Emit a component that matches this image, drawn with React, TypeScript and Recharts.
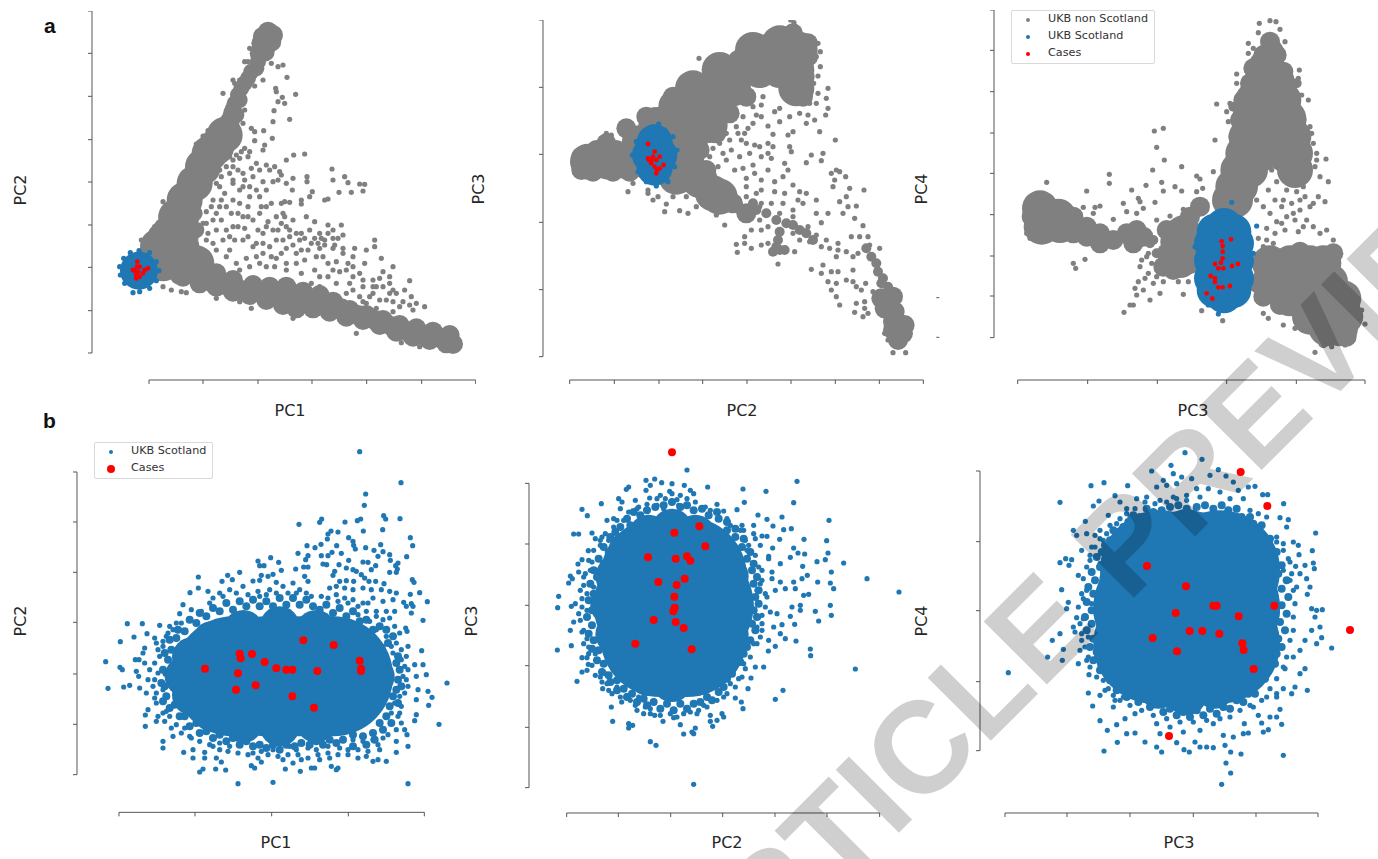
// PCA scatter panels (a: whole UKB, b: Scotland only) with case overlays.
// Values in picture units, y counted downwards,
// the axes have no numbers so the unit itself does not matter.
import { ReferenceLine, Scatter, ScatterChart, XAxis, YAxis } from "recharts";

type Pair = [number, number];

const GREY = "#808080";
const BLUE = "#1f77b4";
const RED = "#ff0000";
const SPINE = "#555";

// ---------- panel a, PC1 / PC2 ----------
const a1XTicks = [448, 610, 775, 937, 1101, 1266, 1428];
const a1YTicks = [33, 160, 289, 419, 546, 675, 802, 932, 1059];
const a1GreyLarge: Pair[] = [[675, 405], [650, 440], [630, 460], [610, 500], [585, 550], [555, 600], [530, 650], [545, 650], [510, 700], [545, 700], [475, 740], [530, 740], [545, 740], [490, 790], [545, 790], [590, 790]];
const a1GreyMid: Pair[] = [[805, 95], [790, 110], [820, 105], [785, 130], [815, 125], [780, 160], [795, 155], [690, 365], [700, 340], [635, 830], [590, 830], [540, 825], [550, 830], [600, 850], [650, 860], [700, 875], [750, 885], [800, 900], [850, 915], [890, 925], [940, 925], [990, 935], [1040, 950], [1090, 960], [1140, 975], [1190, 995], [1240, 1010], [1290, 1020], [1340, 1030], [1360, 1032], [650, 820], [700, 840], [760, 855], [810, 860], [860, 860], [910, 875], [960, 885], [1000, 905], [1050, 930], [1100, 945], [1150, 960], [1200, 975], [1250, 985], [1300, 995], [1350, 1005], [675, 855], [725, 870], [775, 875], [825, 885], [875, 890], [925, 900], [975, 910], [1025, 925], [1075, 945], [1125, 960], [1175, 978], [1225, 995], [1275, 1005], [1325, 1015]];
const a1GreyArm: Pair[] = [[775, 185], [770, 205], [755, 215], [745, 235], [735, 250], [725, 265], [715, 285], [720, 300], [705, 310], [700, 325], [710, 345], [590, 690], [585, 640], [470, 700], [500, 650], [540, 590]];
const a1GreyDots: Pair[] = [[815, 190], [850, 195], [835, 200], [862, 232], [828, 265], [830, 275], [888, 283], [848, 292], [835, 305], [855, 310], [823, 332], [820, 365], [870, 358], [755, 385], [765, 395], [792, 392], [818, 415], [765, 422], [795, 435], [790, 450], [735, 445], [750, 455], [710, 465], [720, 475], [770, 490], [800, 495], [825, 500], [860, 480], [882, 465], [915, 462], [997, 507], [1000, 540], [1035, 530], [1045, 548], [1080, 552], [1095, 553], [1090, 573], [1055, 577], [1018, 577], [975, 600], [985, 597], [938, 575], [930, 590], [905, 600], [905, 612], [880, 535], [922, 530], [922, 545], [878, 570], [855, 605], [870, 607], [840, 515], [845, 525], [820, 545], [790, 545], [760, 530], [730, 520], [700, 500], [680, 500], [665, 530], [650, 550], [640, 600], [620, 635], [610, 670], [625, 700], [650, 640], [680, 620], [700, 600], [720, 570], [750, 560], [780, 590], [800, 620], [830, 650], [850, 640], [820, 690], [790, 700], [760, 660], [730, 650], [700, 680], [670, 720], [640, 730], [690, 750], [730, 720], [770, 730], [810, 740], [850, 720], [890, 700], [920, 650], [945, 665], [985, 675], [1025, 675], [965, 715], [985, 700], [1015, 715], [1005, 735], [945, 715], [905, 750], [860, 745], [830, 775], [800, 800], [770, 770], [740, 775], [710, 790], [680, 770], [925, 750], [970, 770], [1010, 785], [1045, 790], [1065, 745], [1100, 750], [1125, 720], [1125, 740], [1145, 775], [1180, 800], [1150, 815], [1120, 840], [1080, 820], [1050, 850], [1020, 815], [985, 830], [945, 810], [905, 820], [935, 850], [1040, 880], [1080, 890], [1120, 880], [1150, 860], [1190, 880], [1230, 842], [1215, 870], [1235, 890], [1250, 910], [1275, 920], [1200, 920], [1160, 900], [1100, 910], [1070, 1000], [755, 925], [720, 905], [650, 895], [560, 878], [515, 870], [545, 875], [490, 860], [750, 145], [745, 185], [735, 185], [700, 240], [790, 240], [765, 258], [670, 280], [705, 250], [720, 240], [750, 240], [625, 392], [610, 408], [590, 432], [570, 480], [490, 605], [465, 680], [425, 720], [735, 330], [730, 370], [840, 930], [880, 955], [1205, 1028], [1260, 1040], [660, 560], [675, 580], [700, 550], [735, 540], [770, 570], [800, 570], [715, 640], [745, 620], [665, 660], [690, 710], [735, 685], [775, 690], [805, 665], [845, 670], [870, 690], [905, 700], [915, 715], [955, 730], [975, 735], [1000, 715], [1030, 745], [890, 760], [760, 740], [790, 760], [825, 800], [860, 790], [630, 770], [1090, 860], [1130, 860], [1060, 830], [1170, 850], [1180, 870]];
const a1GreyDotsExtra: Pair[] = [[690, 470], [725, 455], [745, 470], [700, 480], [660, 510], [690, 520], [715, 510], [755, 505], [780, 510], [810, 510], [835, 540], [860, 550], [700, 540], [730, 560], [665, 600], [635, 620], [660, 620], [695, 640], [720, 610], [750, 590], [785, 620], [815, 610], [845, 610], [855, 650], [880, 660], [860, 680], [835, 690], [800, 680], [780, 640], [745, 650], [715, 680], [680, 690], [650, 690], [620, 670], [640, 660], [620, 720], [650, 750], [705, 720], [745, 710], [790, 730], [830, 720], [870, 710], [900, 720], [930, 690], [960, 700], [1000, 690], [1030, 705], [975, 720], [1000, 745], [960, 745], [935, 730], [880, 735], [845, 760], [815, 770], [780, 790], [750, 800], [720, 810], [860, 810], [890, 790], [915, 780], [950, 770], [985, 790], [1030, 760], [1060, 770], [1095, 790], [1040, 810], [1000, 810], [960, 830], [1060, 800], [1010, 850], [960, 860], [1090, 840], [1120, 860], [1140, 835], [1170, 830], [1110, 890], [1140, 900], [1180, 905], [1210, 905], [1230, 915], [1170, 880], [1060, 870], [1090, 905], [1130, 925], [1180, 935], [1240, 930]];
const a1BlueLarge: Pair[] = [[418, 812]];
const a1BlueDots: Pair[] = [[418, 752], [450, 758], [470, 785], [478, 812], [470, 842], [450, 865], [420, 875], [400, 878], [375, 850], [362, 825], [360, 800], [372, 775], [392, 758]];
const a1Cases: Pair[] = [[413, 785], [412, 800], [420, 800], [435, 810], [445, 805], [405, 812], [415, 815], [430, 820], [410, 825], [420, 830], [410, 835], [400, 810]];

// ---------- panel a, PC2 / PC3 ----------
const a2XTicks = [330, 464, 598, 729, 862, 994, 1127, 1259, 1391];
const a2YTicks = [60, 262, 463, 667, 869, 1070];
const a2GreyLarge: Pair[] = [[880, 150], [940, 150], [1000, 150], [1020, 150], [960, 130], [780, 210], [840, 210], [900, 210], [960, 210], [1010, 210], [700, 265], [760, 265], [820, 265], [1010, 265], [650, 320], [710, 320], [770, 320], [590, 375], [650, 375], [710, 375], [750, 375], [540, 430], [600, 430], [660, 430], [690, 430], [385, 485], [445, 485], [505, 485], [565, 485], [625, 485], [680, 485], [650, 530], [710, 530], [720, 540], [760, 580], [780, 590]];
const a2GreyMid: Pair[] = [[640, 290], [705, 245], [770, 215], [835, 180], [890, 140], [950, 110], [1000, 100], [1045, 130], [1045, 170], [1035, 230], [1030, 290], [560, 350], [500, 385], [440, 430], [860, 290], [810, 340], [770, 400], [720, 450], [740, 510], [820, 610], [860, 640], [365, 470], [365, 510], [410, 450], [470, 450], [400, 515], [460, 515], [510, 515], [1265, 895], [1300, 890], [1275, 925], [1305, 935], [1300, 965], [1335, 975], [1330, 1000], [1315, 1020], [1300, 990]];
const a2GreySmall: Pair[] = [[860, 630], [890, 630], [920, 640], [950, 660], [980, 670], [955, 720], [950, 740], [960, 750], [940, 755], [975, 750], [1020, 690], [1040, 700], [1060, 720], [1220, 745], [1235, 770], [1250, 790], [1255, 815], [1270, 835], [1285, 860], [1265, 850], [960, 695], [880, 610], [1000, 675]];
const a2GreyDots: Pair[] = [[993, 60], [1003, 68], [1082, 155], [1082, 200], [1075, 228], [1105, 265], [1075, 280], [1100, 295], [1070, 310], [1105, 325], [1098, 345], [1020, 340], [1045, 345], [990, 350], [960, 365], [960, 325], [945, 335], [905, 315], [890, 345], [905, 350], [925, 378], [880, 370], [865, 385], [855, 400], [845, 420], [1040, 370], [1065, 360], [1080, 395], [1000, 395], [985, 405], [940, 403], [1127, 420], [925, 430], [885, 435], [860, 430], [900, 440], [925, 460], [940, 440], [990, 440], [995, 455], [1055, 465], [1090, 460], [1040, 488], [1085, 482], [780, 430], [760, 445], [790, 460], [750, 470], [815, 450], [840, 470], [870, 460], [905, 470], [880, 495], [850, 505], [935, 475], [885, 520], [925, 510], [975, 490], [985, 510], [970, 530], [945, 545], [905, 540], [860, 535], [1130, 510], [1115, 520], [1125, 540], [1120, 560], [1140, 515], [1158, 530], [1170, 565], [1213, 570], [1160, 590], [1140, 605], [1190, 618], [1165, 620], [1150, 640], [1185, 655], [1210, 677], [1105, 640], [1070, 640], [1085, 668], [1070, 600], [1040, 580], [1020, 575], [1015, 600], [975, 580], [945, 575], [905, 570], [890, 580], [860, 560], [1000, 555], [1030, 610], [1045, 680], [1070, 705], [1100, 720], [1135, 730], [1135, 750], [1110, 745], [1085, 740], [1160, 755], [1130, 770], [1180, 770], [1195, 760], [1175, 710], [1225, 710], [1200, 710], [1260, 745], [1230, 735], [1090, 795], [1055, 808], [1085, 820], [1115, 815], [1105, 845], [1135, 815], [1130, 850], [1115, 870], [1130, 890], [1140, 915], [1160, 840], [1180, 845], [1190, 860], [1205, 870], [1190, 910], [1215, 905], [1185, 937], [1215, 925], [1210, 950], [1180, 810], [1218, 850], [1240, 875], [1225, 940], [1275, 1000], [1285, 1020], [1300, 1058], [1338, 1058], [830, 733], [855, 730], [875, 745], [833, 757], [905, 735], [925, 730], [855, 710], [875, 690], [795, 675], [770, 645], [685, 640], [660, 632], [620, 612], [615, 635], [580, 600], [565, 570], [595, 590], [505, 575], [520, 550], [565, 580], [640, 590], [680, 590], [710, 620], [955, 792], [1005, 755], [440, 400], [455, 405], [498, 372], [718, 175], [775, 175], [785, 190], [770, 180], [1030, 690], [1000, 650], [960, 640], [920, 635], [900, 620], [1075, 130], [1070, 170], [1062, 250], [1050, 310], [800, 400], [830, 380], [810, 420], [780, 410], [880, 320], [910, 290], [850, 350], [835, 400], [800, 480], [825, 510], [775, 500], [860, 590], [905, 610], [935, 610], [970, 610], [1000, 700], [1020, 720], [1050, 725], [900, 660], [925, 680], [905, 690], [1000, 630]];
const a2BlueLarge: Pair[] = [[585, 427], [599, 465], [585, 503], [571, 465]];
const a2BlueDots: Pair[] = [[597, 372], [575, 382], [615, 390], [640, 410], [652, 450], [645, 500], [625, 545], [590, 558], [560, 545], [535, 515], [518, 465], [530, 425]];
const a2Cases: Pair[] = [[565, 432], [585, 455], [565, 475], [575, 480], [590, 480], [600, 470], [612, 495], [575, 490], [585, 500], [592, 510], [590, 520], [600, 505], [568, 480], [580, 470]];
const a2StrayTicks: Pair[] = [[1433, 893], [1433, 1012]];

// ---------- panel a, PC3 / PC4 ----------
const a3XTicks = [353, 563, 772, 980, 1189, 1395];
const a3YTicks = [30, 151, 275, 399, 520, 644, 768, 888, 1013];
const a3GreyLarge: Pair[] = [[1100, 200], [1090, 245], [1130, 245], [1060, 300], [1120, 300], [1150, 300], [1050, 355], [1110, 355], [1165, 355], [1040, 410], [1100, 410], [1160, 410], [1180, 410], [1030, 460], [1085, 460], [1150, 460], [1185, 460], [1015, 510], [1050, 510], [1185, 510], [1000, 560], [1020, 560], [990, 600], [1005, 600], [420, 625], [425, 680], [475, 650], [480, 675], [835, 725], [840, 780], [850, 700], [860, 770], [1110, 790], [1170, 790], [1230, 790], [1270, 790], [1110, 845], [1170, 845], [1230, 845], [1290, 845], [1170, 895], [1230, 895], [1290, 895], [1330, 895], [1230, 950], [1290, 950], [1335, 950], [1280, 985], [1320, 985]];
const a3GreyMid: Pair[] = [[1110, 125], [1120, 150], [1090, 165], [1130, 165], [1060, 205], [1150, 215], [1050, 250], [1160, 260], [1030, 300], [1170, 300], [1020, 360], [1190, 360], [1015, 410], [1200, 410], [1205, 470], [1200, 510], [975, 590], [395, 650], [520, 650], [520, 700], [560, 680], [600, 700], [640, 720], [680, 700], [710, 690], [730, 710], [700, 730], [600, 730], [560, 710], [800, 690], [800, 760], [790, 800], [870, 650], [820, 810], [1085, 790], [1075, 850], [1090, 890], [1240, 975], [1340, 1010], [1360, 950], [1300, 760], [1200, 755], [1140, 915], [900, 620]];
const a3GreySmall: Pair[] = [[750, 730], [770, 760], [760, 720], [1270, 1030], [1365, 920], [1000, 320], [1190, 250]];
const a3GreyDots: Pair[] = [[1078, 70], [1110, 62], [1128, 65], [1140, 88], [1075, 98], [1155, 125], [1045, 130], [1045, 160], [1060, 145], [1010, 222], [1010, 250], [1198, 210], [1195, 235], [1205, 285], [1225, 300], [950, 312], [990, 310], [980, 335], [985, 365], [1230, 380], [945, 420], [1235, 400], [1240, 430], [763, 393], [790, 385], [770, 442], [793, 480], [845, 500], [758, 510], [628, 523], [628, 550], [440, 547], [560, 573], [785, 547], [738, 556], [825, 560], [790, 573], [845, 573], [695, 570], [890, 528], [900, 537], [908, 565], [940, 515], [890, 575], [715, 595], [720, 605], [765, 607], [670, 610], [600, 618], [585, 622], [550, 622], [580, 640], [810, 648], [850, 628], [640, 658], [770, 660], [680, 635], [710, 640], [730, 625], [1250, 460], [1278, 477], [1250, 480], [1245, 500], [1260, 530], [1285, 545], [1255, 590], [1275, 605], [1120, 480], [1140, 495], [1115, 510], [1150, 530], [1130, 545], [1100, 490], [1160, 570], [1190, 575], [1215, 590], [1125, 600], [1145, 620], [1175, 610], [1200, 630], [1230, 620], [1110, 640], [1130, 665], [1160, 650], [1185, 660], [1220, 660], [1100, 685], [1125, 700], [1155, 690], [1195, 695], [1260, 700], [1280, 690], [1300, 720], [1075, 715], [1090, 740], [1315, 760], [1350, 880], [1385, 930], [1395, 972], [520, 790], [527, 805], [555, 778], [740, 770], [720, 800], [745, 820], [770, 830], [790, 845], [715, 845], [705, 865], [730, 870], [780, 880], [750, 900], [710, 885], [850, 883], [835, 845], [865, 845], [690, 915], [700, 915], [672, 937], [905, 932], [968, 962], [1090, 940], [1105, 955], [1150, 975], [1185, 985], [1245, 1057], [1295, 1040], [1335, 1035], [380, 700], [390, 715], [1070, 600], [1210, 560], [1240, 610], [1170, 530], [1105, 570], [1090, 620], [745, 760], [725, 780], [755, 790], [775, 800], [760, 850], [735, 835], [1200, 600], [1150, 600], [1180, 640], [1210, 680], [1145, 670], [1240, 680], [1100, 720], [1120, 730]];
const a3BlueLarge: Pair[] = [[972, 678], [1000, 695], [1008, 782], [1000, 870], [972, 886], [944, 870], [936, 782], [944, 695], [1008, 730], [1008, 835], [936, 730], [936, 835]];
const a3BlueDots: Pair[] = [[995, 607], [1070, 678], [955, 942], [925, 915], [885, 740], [1060, 760], [1050, 840]];
const a3Cases: Pair[] = [[965, 724], [993, 718], [968, 738], [968, 755], [968, 775], [963, 788], [945, 792], [955, 805], [970, 805], [996, 798], [1014, 792], [932, 828], [945, 835], [945, 846], [955, 862], [968, 862], [990, 858], [920, 880], [937, 896]];

// ---------- panel b, PC1 / PC2 ----------
const b1XTicks = [358, 586, 816, 1046, 1274];
const b1YTicks = [127, 277, 428, 578, 733, 884, 1035];
const b1BlueHuge: Pair[] = [[700, 740], [800, 740], [900, 740], [1000, 740]];
const b1BlueOutline: Pair[] = [[1125, 740], [1103, 683], [1042, 634], [949, 601], [840, 590], [731, 601], [638, 634], [577, 683], [555, 740], [577, 797], [638, 846], [731, 879], [840, 890], [949, 879], [1042, 846], [1103, 797]];
const b1BlueDots: Pair[] = [[1080, 66], [1204, 159], [1098, 193], [1094, 227], [1152, 258], [1158, 268], [1201, 267], [966, 268], [960, 278], [898, 284], [1036, 277], [1083, 268], [1073, 273], [1091, 304], [1149, 300], [994, 304], [985, 313], [1015, 307], [983, 328], [1232, 324], [1047, 324], [1060, 335], [1062, 347], [1067, 358], [1143, 345], [1239, 348], [1098, 354], [1011, 348], [964, 344], [922, 348], [946, 354], [895, 371], [925, 378], [918, 390], [965, 378], [985, 378], [997, 368], [1025, 371], [1123, 362], [1150, 366], [1170, 375], [1135, 380], [1221, 381], [1195, 400], [1172, 392], [813, 384], [775, 394], [780, 408], [793, 408], [837, 398], [845, 422], [888, 418], [912, 412], [925, 412], [970, 403], [981, 405], [1018, 405], [1047, 392], [1090, 397], [1105, 398], [1128, 408], [1188, 408], [1193, 418], [1170, 428], [1190, 428], [1115, 420], [1040, 415], [1060, 420], [1005, 425], [1000, 437], [1070, 425], [1085, 435], [1095, 445], [720, 428], [684, 437], [698, 450], [596, 442], [667, 455], [596, 475], [571, 489], [625, 485], [785, 437], [805, 440], [820, 434], [760, 454], [780, 452], [830, 458], [915, 440], [925, 455], [880, 460], [1020, 455], [1040, 453], [1062, 455], [1108, 455], [1128, 455], [1153, 462], [1238, 450], [1243, 458], [1010, 470], [1035, 475], [1060, 480], [1090, 475], [1115, 480], [1145, 480], [1170, 485], [1190, 490], [1232, 494], [1260, 489], [1283, 516], [1235, 522], [1212, 518], [1220, 530], [1240, 530], [1235, 550], [1270, 572], [1180, 510], [1150, 515], [1120, 505], [1090, 520], [1060, 510], [1035, 505], [1010, 495], [990, 475], [1100, 545], [1130, 545], [1160, 545], [1185, 545], [1075, 555], [1110, 575], [1150, 570], [1185, 590], [1218, 595], [1222, 605], [1095, 600], [1130, 600], [1160, 620], [1190, 640], [1225, 650], [1266, 663], [1205, 660], [1180, 670], [1150, 650], [383, 582], [428, 582], [362, 636], [403, 622], [442, 612], [480, 587], [510, 590], [465, 625], [435, 655], [430, 670], [470, 640], [500, 620], [540, 552], [550, 525], [575, 540], [605, 545], [630, 520], [660, 490], [690, 480], [730, 470], [780, 500], [810, 480], [850, 470], [890, 490], [920, 490], [545, 580], [520, 600], [318, 696], [361, 713], [368, 720], [407, 690], [418, 690], [435, 700], [410, 725], [417, 740], [450, 720], [465, 700], [480, 680], [490, 650], [325, 776], [372, 772], [390, 767], [420, 775], [445, 750], [465, 750], [440, 790], [470, 790], [490, 780], [437, 856], [445, 840], [437, 890], [470, 820], [475, 860], [490, 850], [470, 875], [495, 875], [515, 895], [520, 920], [545, 910], [570, 920], [490, 935], [490, 955], [552, 968], [580, 960], [615, 968], [640, 950], [660, 960], [685, 965], [580, 985], [615, 985], [650, 985], [600, 1027], [610, 1018], [648, 1018], [678, 1021], [665, 997], [715, 1062], [820, 1058], [755, 1008], [765, 1015], [785, 997], [760, 970], [785, 965], [820, 960], [850, 990], [857, 1018], [880, 1000], [902, 1025], [905, 990], [935, 1015], [945, 1015], [960, 990], [990, 985], [1010, 1020], [995, 1010], [1015, 1015], [1045, 975], [1075, 985], [1100, 980], [1120, 995], [1135, 990], [1160, 995], [1190, 968], [1190, 935], [1225, 1062], [1225, 950], [1222, 915], [1215, 900], [1140, 960], [1150, 925], [1120, 930], [1090, 935], [1060, 930], [1020, 955], [985, 950], [950, 960], [925, 955], [890, 960], [870, 950], [1175, 850], [1205, 880], [1185, 820], [1200, 800], [1225, 770], [1250, 740], [1280, 735], [1245, 705], [1270, 705], [1215, 710], [1210, 740], [1255, 780], [1285, 785], [1297, 803], [1250, 810], [1287, 827], [1250, 855], [1245, 873], [1318, 884], [1342, 760], [1200, 850]];
const b1BlueEdge: Pair[] = [[620, 560], [640, 535], [660, 545], [680, 520], [700, 540], [720, 515], [740, 530], [760, 510], [780, 530], [800, 515], [820, 530], [840, 505], [860, 525], [880, 505], [900, 525], [920, 510], [940, 530], [960, 540], [980, 525], [1000, 550], [1020, 535], [1040, 560], [1060, 545], [1080, 575], [1100, 570], [1120, 600], [1140, 590], [1160, 600], [1165, 640], [1180, 620], [1195, 680], [1190, 700], [1200, 720], [1195, 750], [1190, 780], [1205, 770], [1180, 800], [1195, 820], [1170, 830], [1160, 860], [1175, 880], [1140, 880], [1150, 900], [1120, 910], [1125, 930], [1090, 920], [1100, 945], [1060, 915], [1060, 950], [1030, 930], [1010, 940], [990, 930], [970, 945], [950, 935], [930, 945], [905, 940], [885, 950], [860, 945], [840, 960], [820, 945], [800, 955], [780, 945], [760, 950], [740, 935], [720, 945], [700, 925], [680, 935], [660, 915], [640, 925], [620, 905], [600, 910], [590, 880], [570, 890], [555, 860], [540, 860], [525, 825], [510, 835], [500, 800], [490, 815], [495, 770], [485, 760], [500, 730], [490, 720], [505, 690], [495, 670], [515, 660], [510, 630], [530, 625], [535, 600], [555, 605], [570, 570], [590, 580], [600, 550], [625, 590]];
const b1BlueFringe: Pair[] = [[640, 505], [670, 500], [710, 490], [745, 495], [775, 485], [800, 495], [830, 490], [865, 490], [900, 480], [935, 500], [965, 500], [985, 505], [1015, 515], [1045, 520], [1075, 530], [1105, 520], [1130, 560], [1170, 565], [1200, 610], [1175, 650], [1205, 690], [1220, 680], [1225, 720], [1220, 750], [1215, 790], [1205, 830], [1195, 860], [1190, 900], [1165, 915], [1135, 945], [1105, 965], [1075, 960], [1045, 960], [1015, 975], [985, 970], [955, 975], [925, 985], [895, 975], [865, 975], [835, 980], [805, 975], [775, 985], [745, 975], [715, 970], [690, 950], [660, 940], [630, 945], [600, 935], [575, 925], [555, 895], [530, 885], [510, 860], [500, 845], [465, 805], [460, 770], [475, 730], [475, 660], [490, 635], [505, 610], [530, 580]];
const b1Cases: Pair[] = [[911, 632], [1002, 646], [720, 672], [723, 686], [757, 673], [795, 697], [1080, 693], [616, 717], [830, 716], [860, 720], [878, 720], [953, 724], [1084, 717], [1084, 724], [715, 731], [768, 767], [709, 780], [878, 800], [943, 834]];

// ---------- panel b, PC2 / PC3 ----------
const b2XTicks = [319, 474, 631, 787, 944, 1100, 1258];
const b2YTicks = [159, 341, 525, 706, 891, 1072];
const b2BlueHuge: Pair[] = [[580, 525], [700, 525], [600, 440], [680, 440], [600, 620], [680, 620]];
const b2BlueOutline: Pair[] = [[820, 525], [805, 438], [766, 362], [705, 313], [635, 295], [565, 313], [504, 362], [465, 438], [450, 525], [465, 612], [504, 688], [565, 737], [635, 755], [705, 737], [766, 688], [805, 612]];
const b2BlueDots: Pair[] = [[680, 119], [1010, 153], [557, 150], [583, 146], [604, 157], [635, 160], [570, 165], [505, 170], [498, 177], [557, 180], [628, 183], [672, 165], [690, 180], [742, 170], [848, 176], [917, 183], [700, 190], [660, 195], [600, 195], [568, 203], [525, 210], [475, 205], [485, 215], [423, 220], [650, 208], [680, 205], [705, 215], [770, 222], [852, 216], [1000, 217], [365, 237], [381, 256], [480, 235], [535, 230], [590, 225], [610, 235], [655, 225], [735, 230], [750, 240], [790, 242], [830, 238], [460, 265], [440, 270], [893, 254], [920, 267], [965, 260], [1106, 270], [845, 285], [880, 285], [938, 287], [970, 298], [993, 295], [340, 311], [355, 311], [395, 308], [405, 325], [425, 320], [470, 270], [800, 265], [810, 285], [850, 300], [880, 310], [905, 317], [920, 318], [958, 327], [1031, 327], [1099, 331], [445, 330], [420, 345], [384, 361], [365, 388], [385, 390], [353, 401], [855, 330], [885, 325], [900, 345], [937, 353], [1000, 353], [1013, 368], [1033, 371], [1103, 368], [860, 360], [925, 378], [990, 381], [1070, 394], [1095, 388], [1150, 398], [1220, 445], [1316, 485], [330, 437], [336, 445], [325, 458], [355, 425], [370, 440], [390, 420], [400, 470], [360, 480], [380, 490], [295, 498], [292, 532], [333, 528], [345, 520], [355, 550], [380, 540], [340, 575], [330, 600], [365, 605], [380, 625], [333, 646], [291, 659], [365, 682], [380, 682], [385, 650], [405, 670], [384, 702], [365, 725], [380, 720], [350, 753], [420, 740], [435, 730], [460, 720], [427, 775], [445, 780], [470, 770], [453, 830], [457, 873], [500, 795], [484, 815], [505, 880], [505, 893], [517, 885], [525, 825], [535, 800], [550, 850], [555, 830], [570, 850], [583, 855], [608, 873], [630, 850], [660, 883], [670, 911], [700, 910], [695, 905], [705, 893], [690, 845], [650, 860], [715, 840], [740, 830], [750, 855], [750, 873], [757, 888], [770, 870], [785, 850], [790, 860], [570, 934], [587, 945], [700, 1062], [843, 815], [848, 835], [863, 775], [825, 803], [825, 770], [800, 790], [845, 740], [872, 743], [855, 715], [885, 710], [910, 710], [924, 662], [945, 807], [968, 780], [1050, 656], [1051, 676], [1185, 716], [1007, 632], [945, 648], [975, 625], [925, 630], [900, 620], [880, 640], [960, 610], [940, 590], [965, 583], [1003, 582], [990, 558], [1075, 572], [1113, 555], [1065, 543], [1020, 540], [1020, 525], [1110, 525], [995, 530], [950, 550], [930, 545], [895, 560], [905, 600], [890, 590], [920, 500], [945, 480], [975, 475], [1005, 475], [1030, 495], [1045, 492], [1072, 455], [1110, 458], [1120, 475], [1041, 435], [1025, 445], [1000, 455], [960, 455], [935, 445], [935, 425], [960, 400], [1027, 408], [1113, 425], [905, 420], [925, 385], [900, 460], [890, 480]];
const b2BlueEdge: Pair[] = [[635, 215], [610, 225], [585, 230], [560, 240], [540, 255], [520, 245], [500, 265], [510, 285], [480, 290], [465, 305], [450, 320], [470, 330], [430, 350], [445, 365], [415, 385], [430, 400], [400, 420], [410, 440], [390, 460], [400, 490], [385, 510], [395, 540], [380, 560], [395, 585], [385, 610], [400, 630], [395, 655], [415, 660], [410, 690], [430, 700], [425, 725], [445, 735], [450, 755], [470, 750], [470, 780], [490, 775], [500, 800], [515, 790], [530, 815], [550, 805], [560, 825], [580, 815], [600, 835], [620, 820], [640, 840], [660, 820], [680, 835], [700, 820], [720, 815], [740, 800], [755, 810], [775, 785], [790, 770], [800, 745], [815, 730], [825, 700], [840, 695], [850, 670], [860, 650], [870, 630], [885, 600], [875, 580], [890, 560], [880, 540], [895, 520], [885, 500], [895, 480], [880, 460], [890, 440], [875, 420], [880, 400], [860, 385], [870, 365], [845, 350], [850, 325], [825, 320], [825, 295], [800, 300], [800, 275], [775, 265], [770, 245], [745, 255], [725, 235], [700, 240], [680, 225], [660, 230]];
const b2BlueFringe: Pair[] = [[635, 190], [615, 205], [590, 205], [560, 222], [530, 235], [505, 245], [490, 270], [460, 290], [435, 310], [420, 330], [400, 360], [395, 395], [375, 430], [370, 465], [365, 505], [365, 530], [360, 570], [370, 600], [370, 640], [385, 670], [395, 705], [405, 735], [425, 755], [440, 760], [455, 790], [480, 800], [510, 810], [530, 840], [570, 835], [600, 855], [640, 862], [670, 850], [710, 850], [730, 825], [770, 810], [790, 800], [810, 760], [835, 745], [850, 700], [870, 680], [890, 640], [905, 580], [905, 555], [915, 530], [915, 490], [905, 450], [895, 410], [885, 375], [865, 345], [840, 300]];
const b2Cases: Pair[] = [[635, 66], [717, 288], [642, 307], [735, 348], [563, 381], [646, 385], [680, 378], [690, 391], [673, 445], [594, 455], [649, 464], [642, 499], [643, 532], [639, 543], [580, 569], [646, 575], [670, 593], [525, 640], [694, 657]];

// ---------- panel b, PC3 / PC4 ----------
const b3XTicks = [315, 501, 690, 880, 1068, 1254];
const b3YTicks = [122, 334, 541, 754, 961];
const b3BlueHuge: Pair[] = [[760, 530], [960, 530], [860, 420], [860, 650], [760, 640], [960, 640], [780, 420], [960, 420]];
const b3BlueOutline: Pair[] = [[1080, 545], [1062, 450], [1016, 367], [944, 315], [860, 295], [776, 315], [704, 367], [658, 450], [640, 545], [658, 640], [704, 723], [776, 775], [860, 795], [944, 775], [1016, 723], [1062, 640]];
const b3BlueDots: Pair[] = [[855, 67], [906, 87], [813, 105], [820, 130], [755, 122], [955, 118], [930, 135], [978, 137], [875, 145], [845, 140], [612, 157], [573, 166], [683, 166], [790, 150], [800, 165], [770, 170], [830, 160], [890, 175], [925, 175], [1000, 155], [1015, 180], [1045, 170], [1065, 168], [645, 196], [480, 216], [597, 212], [580, 227], [660, 215], [680, 235], [710, 205], [740, 200], [780, 210], [820, 200], [860, 195], [900, 200], [960, 185], [990, 205], [1030, 205], [1088, 193], [1103, 193], [1151, 220], [1050, 240], [1075, 250], [1100, 260], [1140, 262], [1165, 268], [1160, 290], [556, 273], [625, 255], [600, 300], [650, 280], [690, 260], [520, 300], [530, 315], [560, 310], [585, 315], [610, 330], [640, 320], [670, 340], [1247, 308], [1180, 335], [1195, 345], [1237, 361], [1130, 320], [1150, 340], [497, 385], [480, 397], [515, 388], [507, 405], [545, 360], [575, 350], [570, 390], [535, 435], [600, 400], [1197, 373], [1170, 395], [1187, 408], [1215, 405], [1240, 398], [1243, 415], [1200, 430], [1220, 445], [1230, 470], [1150, 420], [1170, 450], [1190, 470], [1222, 492], [485, 478], [505, 516], [500, 535], [550, 505], [560, 480], [575, 520], [530, 562], [550, 565], [480, 610], [457, 630], [520, 590], [525, 605], [545, 630], [565, 620], [490, 657], [443, 680], [487, 690], [540, 660], [535, 700], [560, 690], [590, 680], [600, 710], [567, 733], [325, 727], [1235, 535], [1250, 540], [1267, 538], [1245, 560], [1260, 590], [1235, 600], [1265, 622], [1250, 640], [1295, 653], [1215, 630], [1200, 660], [1180, 680], [1215, 715], [1200, 730], [1155, 715], [1185, 770], [1222, 780], [1150, 775], [1130, 790], [1175, 790], [1130, 800], [565, 788], [600, 795], [578, 827], [625, 775], [645, 810], [670, 800], [640, 830], [600, 871], [622, 900], [650, 883], [652, 936], [612, 962], [675, 865], [705, 850], [680, 910], [705, 908], [735, 935], [770, 880], [770, 950], [785, 965], [780, 910], [810, 890], [830, 937], [852, 958], [868, 965], [885, 935], [900, 950], [920, 950], [940, 952], [850, 905], [900, 900], [940, 880], [970, 915], [975, 945], [992, 965], [1023, 971], [1000, 920], [1030, 910], [1045, 908], [1033, 880], [1075, 855], [1110, 860], [1130, 860], [1145, 882], [1085, 878], [1090, 905], [1105, 898], [1140, 837], [1060, 830], [1100, 800], [1150, 975], [978, 998], [992, 1028], [965, 1062]];
const b3BlueEdge: Pair[] = [[860, 235], [835, 225], [810, 230], [785, 240], [760, 245], [740, 235], [720, 260], [700, 255], [685, 275], [670, 290], [655, 305], [640, 300], [630, 330], [615, 345], [605, 365], [590, 380], [600, 410], [575, 425], [585, 450], [565, 470], [580, 490], [560, 515], [575, 540], [555, 560], [575, 580], [560, 600], [580, 625], [570, 650], [590, 665], [580, 690], [605, 690], [600, 720], [625, 720], [630, 750], [650, 745], [650, 780], [675, 770], [680, 800], [700, 790], [715, 815], [735, 805], [750, 830], [770, 820], [790, 845], [810, 835], [830, 855], [850, 845], [870, 860], [890, 840], [910, 855], [930, 835], [950, 850], [970, 830], [990, 835], [1010, 810], [1030, 815], [1045, 790], [1065, 790], [1075, 760], [1095, 745], [1105, 720], [1125, 700], [1130, 670], [1145, 650], [1135, 625], [1155, 600], [1140, 575], [1160, 550], [1145, 525], [1165, 500], [1145, 475], [1160, 450], [1135, 430], [1145, 405], [1120, 390], [1130, 365], [1105, 350], [1110, 325], [1085, 310], [1085, 285], [1060, 280], [1050, 260], [1025, 260], [1010, 235], [985, 240], [965, 225], [940, 235], [915, 225], [890, 230]];
const b3BlueFringe: Pair[] = [[860, 210], [830, 205], [800, 215], [765, 220], [735, 215], [705, 235], [680, 250], [660, 265], [630, 285], [620, 310], [600, 325], [585, 350], [570, 375], [560, 410], [550, 445], [545, 490], [535, 530], [540, 580], [545, 610], [555, 650], [565, 680], [570, 710], [590, 740], [610, 750], [615, 780], [640, 795], [660, 810], [690, 825], [725, 840], [760, 855], [800, 865], [840, 875], [880, 875], [920, 870], [960, 865], [990, 860], [1020, 840], [1050, 825], [1085, 810], [1110, 775], [1130, 745], [1150, 710], [1160, 680], [1170, 630], [1180, 600], [1180, 560], [1185, 520], [1180, 480], [1175, 430], [1165, 385], [1150, 360], [1130, 335]];
const b3Cases: Pair[] = [[1022, 125], [1102, 227], [741, 407], [858, 468], [940, 526], [950, 526], [1123, 526], [827, 548], [1016, 558], [1350, 599], [869, 602], [907, 602], [958, 610], [758, 623], [1027, 639], [1031, 659], [831, 663], [1061, 716], [807, 917]];

const legendAEntries = ["UKB non Scotland", "UKB Scotland", "Cases"];
const legendBEntries = ["UKB Scotland", "Cases"];

// reading unit is a third of a screen pixel
const UNIT = 3;
const AXIS_SPACE = 20;
const R_HUGE = 60;
const R_OUTLINE = 20;
const R_LARGE = 18;
const R_MID = 10;
const R_ARM = 8;
const R_SMALL = 5;
const R_EDGE = 4;
const R_DOT = 2.6;
const R_CASE_A = 2.4;
const R_CASE_B = 4;

type Layer = { data: Pair[]; r: number; fill: string };

interface PanelProps {
  originX: number;
  originY: number;
  left: number;
  right: number;
  top: number;
  bottom: number;
  xTicks: number[];
  yTicks: number[];
  layers: Layer[];
  stray?: Pair[];
}

// tick={false} drops the tick marks as well, so the labels get an empty group instead
const NoTickLabel = () => <g />;

function Panel({ originX, originY, left, right, top, bottom, xTicks, yTicks, layers, stray }: PanelProps) {
  const plotW = (right - left) / UNIT;
  const plotH = (bottom - top) / UNIT;
  return (
    <div style={{ position: "absolute", left: originX + left / UNIT - AXIS_SPACE, top: originY + top / UNIT }}>
      <ScatterChart width={plotW + AXIS_SPACE} height={plotH + AXIS_SPACE} margin={{ top: 0, right: 0, bottom: 0, left: 0 }}>
        <XAxis
          type="number"
          dataKey="x"
          domain={[left, right]}
          ticks={xTicks}
          interval={0}
          tick={NoTickLabel}
          tickSize={4}
          tickLine={{ stroke: SPINE }}
          axisLine={false}
          height={AXIS_SPACE}
        />
        <YAxis
          type="number"
          dataKey="y"
          reversed
          domain={[top, bottom]}
          ticks={yTicks}
          interval={0}
          tick={NoTickLabel}
          tickSize={4}
          tickLine={{ stroke: SPINE }}
          axisLine={false}
          width={AXIS_SPACE}
        />
        <ReferenceLine
          segment={[{ x: xTicks[0], y: bottom }, { x: xTicks[xTicks.length - 1], y: bottom }]}
          stroke={SPINE}
          ifOverflow="visible"
        />
        <ReferenceLine
          segment={[{ x: left, y: yTicks[0] }, { x: left, y: yTicks[yTicks.length - 1] }]}
          stroke={SPINE}
          ifOverflow="visible"
        />
        {stray?.map(([x, y]) => (
          <ReferenceLine key={y} segment={[{ x: x - 3, y }, { x: x + 6, y }]} stroke={SPINE} ifOverflow="visible" />
        ))}
        {layers.map((layer, i) => (
          <Scatter
            key={i}
            data={layer.data.map(([x, y]) => ({ x, y }))}
            isAnimationActive={false}
            shape={(p: any) => <circle cx={p.cx} cy={p.cy} r={layer.r} fill={layer.fill} />}
          />
        ))}
      </ScatterChart>
    </div>
  );
}

const labelFont = '"DejaVu Sans", sans-serif';

function AxisLabel({ x, y, text, vertical }: { x: number; y: number; text: string; vertical?: boolean }) {
  return (
    <div
      style={{
        position: "absolute",
        left: x,
        top: y,
        fontFamily: labelFont,
        fontSize: 16,
        color: "#262626",
        whiteSpace: "nowrap",
        transform: `translate(-50%, -50%)${vertical ? " rotate(-90deg)" : ""}`,
      }}
    >
      {text}
    </div>
  );
}

function LegendBox(props: { left: number; top: number; width: number; height: number; markX: number; textX: number; rowGap: number; entries: string[]; marks: [string, number][] }) {
  const { left, top, width, height, markX, textX, rowGap, entries, marks } = props;
  return (
    <div
      style={{
        position: "absolute",
        left,
        top,
        width,
        height,
        background: "#fff",
        border: "1px solid #d9d9d9",
        borderRadius: 2,
        boxSizing: "border-box",
        fontFamily: labelFont,
        fontSize: 11.2,
        color: "#333",
      }}
    >
      {entries.map((name, i) => (
        <div key={name}>
          <div
            style={{
              position: "absolute",
              left: markX - marks[i][1],
              top: 9 + i * rowGap - marks[i][1],
              width: marks[i][1] * 2,
              height: marks[i][1] * 2,
              borderRadius: "50%",
              background: marks[i][0],
            }}
          />
          <div style={{ position: "absolute", left: textX, top: 1 + i * rowGap, whiteSpace: "nowrap" }}>{name}</div>
        </div>
      ))}
    </div>
  );
}

export default function App() {
  return (
    <div style={{ position: "absolute", left: 0, top: 0, width: 1378, height: 859, overflow: "hidden", background: "#fff" }}>
      <Panel
        originX={0} originY={0} left={277} right={1428} top={33} bottom={1140}
        xTicks={a1XTicks} yTicks={a1YTicks}
        layers={[
          { data: a1GreyLarge, r: R_LARGE, fill: GREY },
          { data: a1GreyMid, r: R_MID, fill: GREY },
          { data: a1GreyArm, r: R_ARM, fill: GREY },
          { data: a1GreyDots, r: R_DOT, fill: GREY },
          { data: a1GreyDotsExtra, r: R_DOT, fill: GREY },
          { data: a1BlueLarge, r: R_LARGE + 1, fill: BLUE },
          { data: a1BlueDots, r: R_DOT, fill: BLUE },
          { data: a1Cases, r: R_CASE_A, fill: RED },
        ]}
      />
      <Panel
        originX={460} originY={0} left={250} right={1440} top={60} bottom={1140}
        xTicks={a2XTicks} yTicks={a2YTicks} stray={a2StrayTicks}
        layers={[
          { data: a2GreyLarge, r: R_LARGE, fill: GREY },
          { data: a2GreyMid, r: R_MID, fill: GREY },
          { data: a2GreySmall, r: R_SMALL, fill: GREY },
          { data: a2GreyDots, r: R_DOT, fill: GREY },
          { data: a2BlueLarge, r: R_LARGE, fill: BLUE },
          { data: a2BlueDots, r: R_DOT, fill: BLUE },
          { data: a2Cases, r: R_CASE_A, fill: RED },
        ]}
      />
      <Panel
        originX={900} originY={0} left={282} right={1434} top={30} bottom={1140}
        xTicks={a3XTicks} yTicks={a3YTicks}
        layers={[
          { data: a3GreyLarge, r: R_LARGE, fill: GREY },
          { data: a3GreyMid, r: R_MID, fill: GREY },
          { data: a3GreySmall, r: R_SMALL, fill: GREY },
          { data: a3GreyDots, r: R_DOT, fill: GREY },
          { data: a3BlueLarge, r: R_LARGE, fill: BLUE },
          { data: a3BlueDots, r: R_DOT, fill: BLUE },
          { data: a3Cases, r: R_CASE_A, fill: RED },
        ]}
      />
      <Panel
        originX={0} originY={430} left={232} right={1360} top={40} bottom={1148}
        xTicks={b1XTicks} yTicks={b1YTicks}
        layers={[
          { data: b1BlueHuge, r: R_HUGE, fill: BLUE },
          { data: b1BlueOutline, r: R_OUTLINE, fill: BLUE },
          { data: b1BlueEdge, r: R_EDGE, fill: BLUE },
          { data: b1BlueDots, r: R_DOT, fill: BLUE },
          { data: b1BlueFringe, r: R_DOT, fill: BLUE },
          { data: b1Cases, r: R_CASE_B, fill: RED },
        ]}
      />
      <Panel
        originX={460} originY={430} left={206} right={1330} top={50} bottom={1148}
        xTicks={b2XTicks} yTicks={b2YTicks}
        layers={[
          { data: b2BlueHuge, r: R_HUGE, fill: BLUE },
          { data: b2BlueOutline, r: R_OUTLINE, fill: BLUE },
          { data: b2BlueEdge, r: R_EDGE, fill: BLUE },
          { data: b2BlueDots, r: R_DOT, fill: BLUE },
          { data: b2BlueFringe, r: R_DOT, fill: BLUE },
          { data: b2Cases, r: R_CASE_B, fill: RED },
        ]}
      />
      <Panel
        originX={900} originY={430} left={240} right={1370} top={50} bottom={1148}
        xTicks={b3XTicks} yTicks={b3YTicks}
        layers={[
          { data: b3BlueHuge, r: R_HUGE, fill: BLUE },
          { data: b3BlueOutline, r: R_OUTLINE, fill: BLUE },
          { data: b3BlueEdge, r: R_EDGE, fill: BLUE },
          { data: b3BlueDots, r: R_DOT, fill: BLUE },
          { data: b3BlueFringe, r: R_DOT, fill: BLUE },
          { data: b3Cases, r: R_CASE_B, fill: RED },
        ]}
      />

      <AxisLabel x={290} y={410} text="PC1" />
      <AxisLabel x={742} y={410} text="PC2" />
      <AxisLabel x={1193} y={410} text="PC3" />
      <AxisLabel x={276} y={842} text="PC1" />
      <AxisLabel x={727} y={842} text="PC2" />
      <AxisLabel x={1179} y={842} text="PC3" />
      <AxisLabel x={20} y={190} text="PC2" vertical />
      <AxisLabel x={478} y={189} text="PC3" vertical />
      <AxisLabel x={921} y={189} text="PC4" vertical />
      <AxisLabel x={20} y={621} text="PC2" vertical />
      <AxisLabel x={471} y={621} text="PC3" vertical />
      <AxisLabel x={921} y={621} text="PC4" vertical />

      <LegendBox
        left={1011} top={10} width={144} height={54} markX={16} textX={36} rowGap={17}
        entries={legendAEntries} marks={[[GREY, 2], [BLUE, 2], [RED, 2]]}
      />
      <LegendBox
        left={94} top={442} width={119} height={37} markX={16} textX={36} rowGap={17}
        entries={legendBEntries} marks={[[BLUE, 2], [RED, 4]]}
      />

      <div style={{ position: "absolute", left: 44, top: 14, font: "bold 21px 'Liberation Sans', sans-serif", color: "#111" }}>a</div>
      <div style={{ position: "absolute", left: 43, top: 409, font: "bold 21px 'Liberation Sans', sans-serif", color: "#111" }}>b</div>

      <div
        style={{
          position: "absolute",
          left: 718,
          top: 912,
          fontFamily: "'Liberation Sans', sans-serif",
          fontWeight: 700,
          fontSize: 130,
          lineHeight: "130px",
          color: "rgba(0,0,0,0.19)",
          whiteSpace: "nowrap",
          transformOrigin: "0 100%",
          transform: "rotate(-45deg)",
          pointerEvents: "none",
        }}
      >
        ARTICLE PREVIEW
      </div>
    </div>
  );
}
